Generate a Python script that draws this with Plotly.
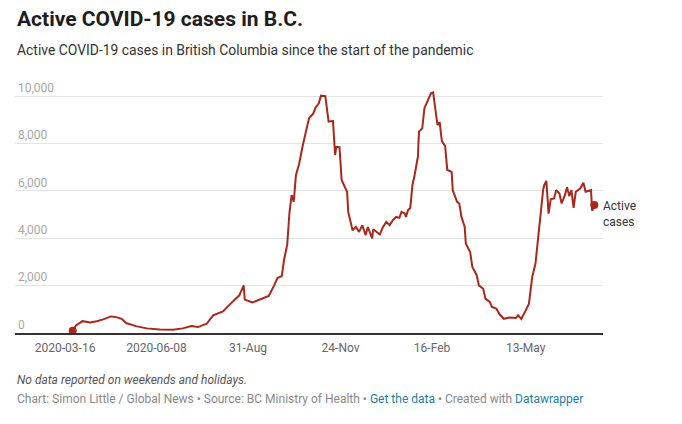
import plotly.graph_objects as go

dates = [
    "2020-03-23", "2020-03-26", "2020-04-01", "2020-04-08", "2020-04-14", "2020-04-20",
    "2020-04-27", "2020-05-02", "2020-05-07", "2020-05-11", "2020-05-20", "2020-05-30",
    "2020-06-11", "2020-06-23", "2020-07-02", "2020-07-10", "2020-07-16", "2020-07-24",
    "2020-07-30", "2020-08-08", "2020-08-15", "2020-08-23", "2020-08-27", "2020-08-28",
    "2020-09-04", "2020-09-10", "2020-09-16", "2020-09-19", "2020-09-24", "2020-09-27",
    "2020-10-01", "2020-10-03", "2020-10-06", "2020-10-08", "2020-10-10", "2020-10-12",
    "2020-10-14", "2020-10-17", "2020-10-20", "2020-10-23", "2020-10-26", "2020-10-30",
    "2020-11-01", "2020-11-04", "2020-11-06", "2020-11-10", "2020-11-13", "2020-11-17",
    "2020-11-19", "2020-11-20", "2020-11-23", "2020-11-25", "2020-11-28", "2020-11-30",
    "2020-12-01", "2020-12-02", "2020-12-03", "2020-12-05", "2020-12-08", "2020-12-11",
    "2020-12-14", "2020-12-17", "2020-12-19", "2020-12-23", "2020-12-24", "2020-12-27",
    "2020-12-30", "2021-01-02", "2021-01-05", "2021-01-08", "2021-01-11", "2021-01-14",
    "2021-01-17", "2021-01-19", "2021-01-22", "2021-01-23", "2021-01-25", "2021-01-27",
    "2021-01-29", "2021-01-31", "2021-02-03", "2021-02-04", "2021-02-07", "2021-02-09",
    "2021-02-11", "2021-02-13", "2021-02-15", "2021-02-17", "2021-02-19", "2021-02-21",
    "2021-02-23", "2021-02-25", "2021-02-28", "2021-03-02", "2021-03-06", "2021-03-07",
    "2021-03-11", "2021-03-13", "2021-03-15", "2021-03-18", "2021-03-19", "2021-03-23",
    "2021-03-25", "2021-03-29", "2021-03-31", "2021-04-04", "2021-04-06", "2021-04-10",
    "2021-04-12", "2021-04-16", "2021-04-19", "2021-04-23", "2021-04-28", "2021-05-04",
    "2021-05-06", "2021-05-09", "2021-05-13", "2021-05-16", "2021-05-19", "2021-05-22",
    "2021-05-25", "2021-05-27", "2021-05-29", "2021-05-30", "2021-06-01", "2021-06-03",
    "2021-06-05", "2021-06-08", "2021-06-10", "2021-06-13", "2021-06-15", "2021-06-18",
    "2021-06-20", "2021-06-22", "2021-06-24", "2021-06-26", "2021-06-28", "2021-07-02",
    "2021-07-05", "2021-07-07", "2021-07-10", "2021-07-12", "2021-07-13", "2021-07-15",
]

active_cases = [
    100, 320, 500, 440, 500, 575,
    700, 670, 600, 420, 290, 195,
    150, 140, 195, 290, 250, 390,
    745, 910, 1240, 1590, 2010, 1410,
    1290, 1390, 1505, 1560, 2010, 2320,
    2400, 3070, 3730, 5050, 5820, 5540,
    6665, 7160, 7860, 8500, 9060, 9270,
    9510, 9700, 10020, 10000, 8920, 8950,
    7510, 7860, 7850, 6450, 6170, 5960,
    5110, 4900, 4620, 4340, 4480, 4270,
    4550, 4130, 4480, 3990, 4380, 4270,
    4160, 4480, 4690, 4550, 4760, 4900,
    4860, 5110, 5050, 4900, 5190, 5280,
    6240, 6670, 7440, 8500, 8640, 9490,
    9700, 9910, 10120, 10160, 9340, 8780,
    8900, 8100, 7900, 6880, 6800, 6030,
    5540, 5470, 4900, 4480, 3780, 3420,
    2790, 2440, 2010, 1870, 1450, 1310,
    1100, 1030, 790, 600, 650, 630,
    745, 590, 955, 1240, 2370, 2930,
    4270, 5190, 6030, 6240, 6420, 5040,
    5640, 5680, 6030, 5890, 5470, 5820,
    6150, 5780, 6030, 5280, 5960, 6100,
    6340, 5960, 6000, 6030, 5160, 5400,
]

x_tick_dates = ["2020-03-16", "2020-06-08", "2020-08-31", "2020-11-24", "2021-02-16", "2021-05-13"]
x_tick_labels = ["2020-03-16", "2020-06-08", "31-Aug", "24-Nov", "16-Feb", "13-May"]
y_tick_values = [0, 2000, 4000, 6000, 8000, 10000]
y_tick_labels = ["0", "2,000", "4,000", "6,000", "8,000", "10,000"]

series_name = "Active cases"
LINE = "#a8281d"
FONT = "Roboto"

fig = go.Figure()
fig.add_trace(go.Scatter(
    x=dates, y=active_cases, mode="lines", name=series_name,
    line=dict(color=LINE, width=2), hoverinfo="skip",
))
fig.add_trace(go.Scatter(
    x=[dates[0], dates[-1]], y=[active_cases[0], active_cases[-1]], mode="markers",
    marker=dict(color=LINE, size=8), hoverinfo="skip",
))

# page body has an 8px default margin; figure sized to fit inside the window
OFF = 8
W, H = 682 - 2 * OFF, 424 - 2 * OFF
L = 15 - OFF
R = W - (603 - OFF)
T = 78 - OFF
B = H - (332.6 - OFF)
ph = H - T - B

def py(p):
    # p: pixel row in the window
    return (H - B - (p - OFF)) / ph

fig.add_annotation(x=0, y=py(19), xref="paper", yref="paper", xanchor="left", yanchor="middle",
                   text="<b>Active COVID-19 cases in B.C.</b>", showarrow=False,
                   font=dict(family=FONT, size=21, color="#1d1d1d"))
fig.add_annotation(x=0, y=py(50), xref="paper", yref="paper", xanchor="left", yanchor="middle",
                   text="Active COVID-19 cases in British Columbia since the start of the pandemic",
                   showarrow=False, font=dict(family=FONT, size=13.9, color="#333333"))
fig.add_annotation(x=0, y=py(380), xref="paper", yref="paper", xanchor="left", yanchor="middle",
                   text="<i>No data reported on weekends and holidays.</i>",
                   showarrow=False, font=dict(family=FONT, size=12, color="#555555"))
fig.add_annotation(x=0, y=py(398), xref="paper", yref="paper", xanchor="left", yanchor="middle",
                   text=("Chart: Simon Little / Global News • Source: BC Ministry of Health • "
                         "<span style='color:#1d81a2'>Get the data</span> • Created with "
                         "<span style='color:#1d81a2'>Datawrapper</span>"),
                   showarrow=False, font=dict(family=FONT, size=12, color="#888888"))
fig.add_annotation(x=dates[-1], y=active_cases[-1], xref="x", yref="y", xanchor="left",
                   yanchor="middle", xshift=7, yshift=-9, align="left",
                   text="Active<br>cases", showarrow=False,
                   font=dict(family=FONT, size=12, color="#333333"))

fig.update_layout(
    width=W, height=H, margin=dict(l=L, r=R, t=T, b=B, pad=0),
    paper_bgcolor="white", plot_bgcolor="white", showlegend=False,
    font=dict(family=FONT),
    xaxis=dict(
        type="date", range=["2020-01-30", "2021-07-23"],
        tickmode="array", tickvals=x_tick_dates, ticktext=x_tick_labels,
        showgrid=False, zeroline=False, showline=True, linecolor="#333333", linewidth=1.5,
        ticks="", ticklabelstandoff=3, tickfont=dict(family=FONT, size=12, color="#666666"),
    ),
    yaxis=dict(
        range=[0, ph / 0.02365], tickmode="array", tickvals=y_tick_values, ticktext=y_tick_labels,
        showgrid=True, gridcolor="#e4e4e4", gridwidth=1, zeroline=False, showline=False,
        ticks="", ticklabelposition="inside top",
        tickfont=dict(family=FONT, size=12, color="#a8a8a8"),
    ),
)

fig.write_html("out.html")
